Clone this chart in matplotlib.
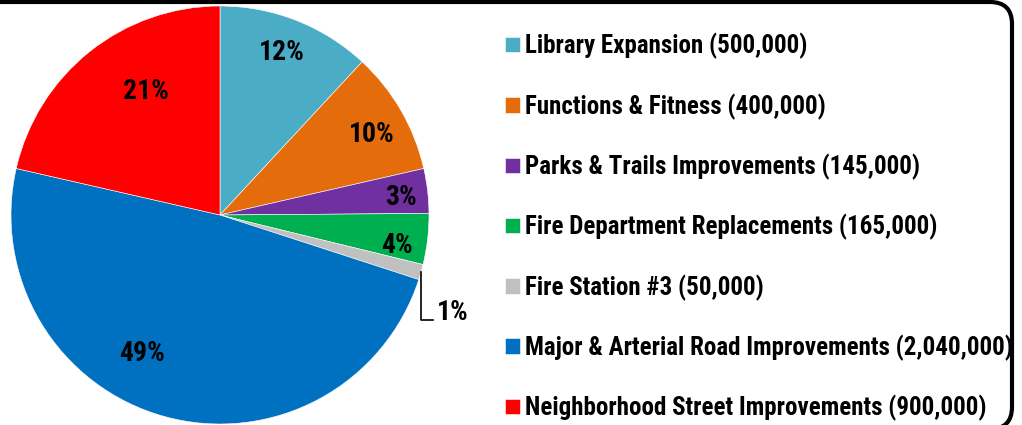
import matplotlib
matplotlib.use('Agg')
import matplotlib.pyplot as plt
import numpy as np
from matplotlib.patches import FancyBboxPatch

plt.rcParams['font.family'] = ['Roboto Condensed', 'Liberation Sans', 'DejaVu Sans']
plt.rcParams['font.weight'] = 'bold'

# project budget
projects = ['Library Expansion', 'Functions & Fitness', 'Parks & Trails Improvements',
            'Fire Department Replacements', 'Fire Station #3',
            'Major & Arterial Road Improvements', 'Neighborhood Street Improvements']
amounts = [500000, 400000, 145000, 165000, 50000, 2040000, 900000]
colors = ['#4BACC6', '#E46C0A', '#7030A0', '#00B050', '#C0C0C0', '#0070C0', '#FF0000']

# label placement (radius fraction, angle shift in deg) - tweaked by eye
lab_r = [0.83, 0.82, 0.87, 0.86, None, 0.76, 0.69]
lab_shift = [0.6, -2, -1.2, -3, 0, -14, -7.6]

W, H = 1022, 425
fig = plt.figure(figsize=(W / 100, H / 100), dpi=100)
cx, cy, R = 220, 215, 209
ax = fig.add_axes([(cx - R) / W, (H - cy - R) / H, 2 * R / W, 2 * R / H])

wedges, _ = ax.pie(amounts, colors=colors, startangle=90, counterclock=False,
                   radius=1, wedgeprops=dict(edgecolor='white', linewidth=0.4))
ax.set_xlim(-1, 1)
ax.set_ylim(-1, 1)
ax.set_aspect('equal')
ax.axis('off')

total = sum(amounts)
fs = 20
for i, w in enumerate(wedges):
    pct = '%.0f%%' % (100.0 * amounts[i] / total)
    mid = (w.theta1 + w.theta2) / 2
    if lab_r[i] is None:
        # small slice: leader line going down, label outside
        a = np.deg2rad(mid)
        x0, y0 = np.cos(a), np.sin(a)
        ax.plot([x0, x0, x0 + 0.055], [y0, -0.502, -0.502], color='black',
                lw=1.2, clip_on=False)
        ax.text(x0 + 0.075, -0.465, pct, fontsize=fs, fontweight='bold',
                ha='left', va='center', clip_on=False)
        continue
    a = np.deg2rad(mid + lab_shift[i])
    ax.text(lab_r[i] * np.cos(a), lab_r[i] * np.sin(a), pct, fontsize=fs,
            fontweight='bold', ha='center', va='center')

labels = ['%s (%s)' % (p, format(v, ',')) for p, v in zip(projects, amounts)]
fig.legend(wedges, labels, loc='upper left', bbox_to_anchor=(505 / W, 1 - 33 / H),
           frameon=False, fontsize=18, handlelength=0.58, handleheight=0.58,
           handletextpad=0.22, labelspacing=1.36, borderaxespad=0, borderpad=0)

# rounded outer border (pixel coords)
box = FancyBboxPatch((-60, -4), 1012 + 60, H - 2 + 4,
                     boxstyle='round,pad=0,rounding_size=22',
                     transform=None, fill=False, edgecolor='black', lw=3)
fig.patches.append(box)

fig.savefig('out.png', dpi=100)
